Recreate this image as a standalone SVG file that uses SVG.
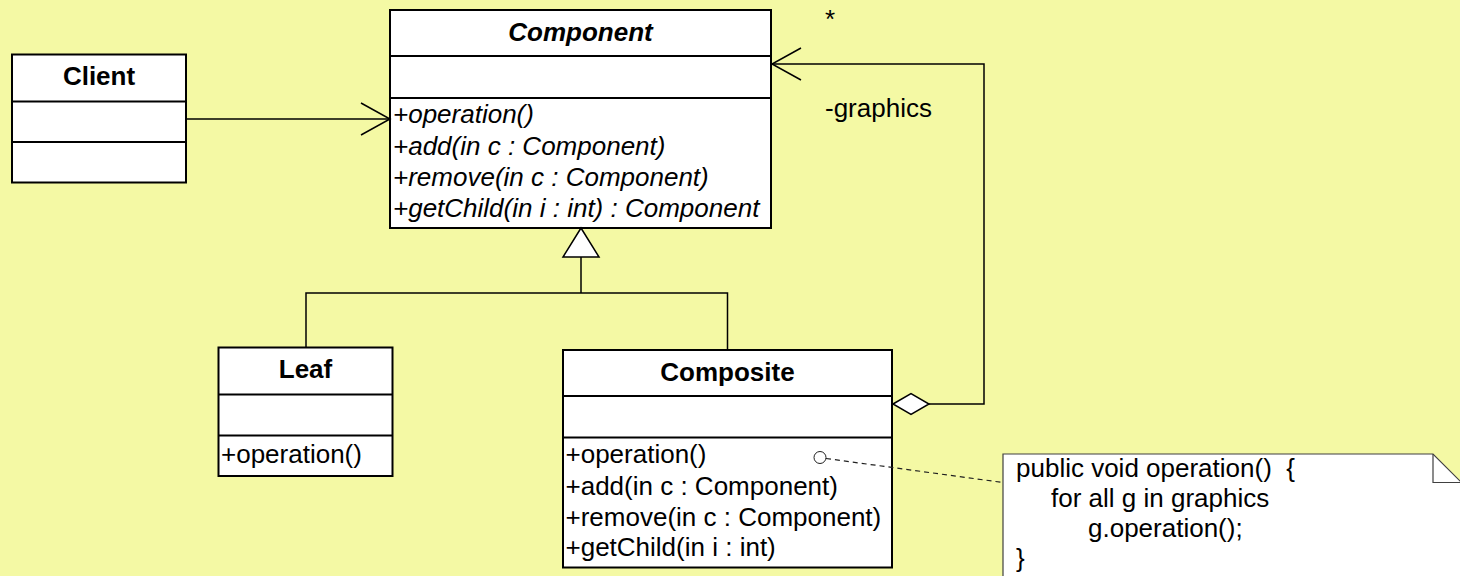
<svg xmlns="http://www.w3.org/2000/svg" width="1460" height="576" viewBox="0 0 1460 576">
  <style>
    .box { fill: #ffffff; stroke: #000000; stroke-width: 2; }
    .div { stroke: #000000; stroke-width: 2; }
    .title { font-family: "Liberation Sans", Arial, sans-serif; font-size: 26px; font-weight: bold; text-anchor: middle; fill: #000; }
    .mem { font-family: "Liberation Sans", Arial, sans-serif; font-size: 26px; fill: #000; }
    .abs { font-style: italic; }
    .line { fill: none; stroke: #000000; stroke-width: 1.5; }
    .note { fill: #ffffff; stroke: #404040; stroke-width: 1.2; }
  </style>
  <rect width="1460" height="576" fill="#F4F9A4"/>

  <g id="component">
    <rect class="box" x="390" y="10" width="381" height="218"/>
    <line class="div" x1="390" y1="56" x2="771" y2="56"/>
    <line class="div" x1="390" y1="98" x2="771" y2="98"/>
    <text class="title abs" x="580.5" y="41">Component</text>
    <text class="mem abs" x="393" y="123">+operation()</text>
    <text class="mem abs" x="393" y="155">+add(in c : Component)</text>
    <text class="mem abs" x="393" y="186">+remove(in c : Component)</text>
    <text class="mem abs" x="393" y="217">+getChild(in i : int) : Component</text>
  </g>

  <g id="client">
    <rect class="box" x="12" y="54.5" width="174" height="128"/>
    <line class="div" x1="12" y1="101.5" x2="186" y2="101.5"/>
    <line class="div" x1="12" y1="142" x2="186" y2="142"/>
    <text class="title" x="99" y="85">Client</text>
  </g>

  <g id="leaf">
    <rect class="box" x="218.5" y="347.5" width="174" height="128.5"/>
    <line class="div" x1="218.5" y1="394.5" x2="392.5" y2="394.5"/>
    <line class="div" x1="218.5" y1="435.5" x2="392.5" y2="435.5"/>
    <text class="title" x="305.5" y="378">Leaf</text>
    <text class="mem" x="221" y="463">+operation()</text>
  </g>

  <g id="composite">
    <rect class="box" x="563" y="350" width="329" height="217.5"/>
    <line class="div" x1="563" y1="396" x2="892" y2="396"/>
    <line class="div" x1="563" y1="437.5" x2="892" y2="437.5"/>
    <text class="title" x="727.5" y="381">Composite</text>
    <text class="mem" x="565.5" y="463">+operation()</text>
    <text class="mem" x="565.5" y="495">+add(in c : Component)</text>
    <text class="mem" x="565.5" y="526">+remove(in c : Component)</text>
    <text class="mem" x="565.5" y="556">+getChild(in i : int)</text>
  </g>

  <g id="note">
    <path class="note" d="M1003,454 L1433,454 L1461,482 L1461,580 L1003,580 Z"/>
    <polyline points="1433,454 1433,482.5 1461,482.5" fill="none" stroke="#404040" stroke-width="1.2"/>
    <text class="mem" x="1016" y="477">public void operation()&#160; {</text>
    <text class="mem" x="1051" y="507">for all g in graphics</text>
    <text class="mem" x="1088" y="537">g.operation();</text>
    <text class="mem" x="1016" y="567">}</text>
  </g>

  <!-- connectors -->
  <g id="connectors">
    <!-- Client to Component association -->
    <line class="line" x1="186" y1="119" x2="390" y2="119"/>
    <polyline class="line" points="361,103 390,119 361,135"/>
    <!-- generalization tree -->
    <polygon points="581,228 563,257 599,257" fill="#ffffff" stroke="#000" stroke-width="1.5"/>
    <line class="line" x1="581" y1="257" x2="581" y2="293"/>
    <polyline class="line" points="306,348 306,293 727.5,293 727.5,350"/>
    <!-- Composite aggregates Component (graphics) -->
    <polyline class="line" points="929,404 984,404 984,64 772,64"/>
    <polyline class="line" points="801,48 772,64 801,80"/>
    <polygon points="893,404 911,393.5 929,404 911,414.5" fill="#ffffff" stroke="#000" stroke-width="1.5"/>
    <text class="mem" x="825" y="28">*</text>
    <text class="mem" x="825" y="117">-graphics</text>
    <!-- note anchor -->
    <circle cx="820" cy="457.5" r="6" fill="#ffffff" stroke="#202020" stroke-width="1"/>
    <line x1="826" y1="458.5" x2="1003" y2="482.5" stroke="#202020" stroke-width="1.2" stroke-dasharray="5,4"/>
  </g>
</svg>
